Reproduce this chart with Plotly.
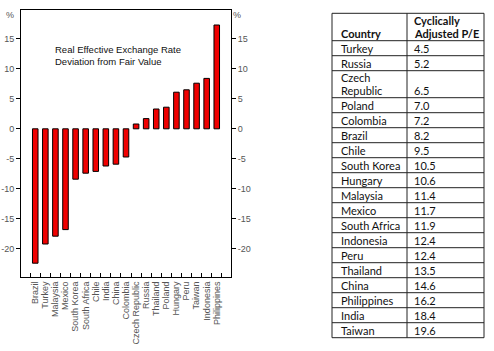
import plotly.graph_objects as go

countries = ["Brazil", "Turkey", "Malaysia", "Mexico", "South Korea", "South Africa",
             "Chile", "India", "China", "Colombia", "Czech Republic", "Russia",
             "Thailand", "Poland", "Hungary", "Peru", "Taiwan", "Indonesia", "Philippines"]
deviation = [-22.4, -19.2, -17.9, -16.8, -8.4, -7.4, -7.1, -6.2, -5.9, -4.7,
             0.8, 1.7, 3.3, 3.6, 6.1, 6.5, 7.6, 8.4, 17.3]
y_ticks = [15, 10, 5, 0, -5, -10, -15, -20]
y_ticktext = ["15", "10", "5", "0", "-5", "-10", "-15", "-20"]

table_countries = [["Turkey"], ["Russia"], ["Czech", "Republic"], ["Poland"], ["Colombia"],
                   ["Brazil"], ["Chile"], ["South Korea"], ["Hungary"], ["Malaysia"],
                   ["Mexico"], ["South Africa"], ["Indonesia"], ["Peru"], ["Thailand"],
                   ["China"], ["Philippines"], ["India"], ["Taiwan"]]
table_pe = ["4.5", "5.2", "6.5", "7.0", "7.2", "8.2", "9.5", "10.5", "10.6", "11.4",
            "11.7", "11.9", "12.4", "12.4", "13.5", "14.6", "16.2", "18.4", "19.6"]
header_col1 = ["Country"]
header_col2 = ["Cyclically", "Adjusted P/E"]

W, H = 494, 351
yr = [-24.7, 19.8]
tick_font = dict(family="Liberation Sans, Arial", size=9, color="#555")

fig = go.Figure()
fig.add_trace(go.Bar(x=countries, y=deviation, width=0.55,
                     marker=dict(color="#f00000", line=dict(color="#000", width=1)),
                     showlegend=False))
fig.add_trace(go.Scatter(x=countries, y=deviation, yaxis="y2", mode="markers",
                         marker=dict(opacity=0), showlegend=False, hoverinfo="skip"))

# ---- table drawn with shapes + annotations (pixel layout -> paper coords)
def px(x):
    return x / W

def py(y):
    return 1 - y / H

tx0, tx1, tx2 = 332, 407, 484
t_top, t_head = 13.3, 40.7
line_h = 13.4
row1 = 15.0
shapes = []
annots = []
lc = dict(color="#222", width=1)
table_font = dict(family="Lato", size=11, color="#111")

# header
hdr_lines = max(len(header_col1), len(header_col2))
def cell_text(lines, x, y_bottom, bold=False):
    n = len(lines)
    for i, s in enumerate(lines):
        yc = y_bottom - 7.3 - (n - 1 - i) * line_h
        annots.append(dict(text=f"<b>{s}</b>" if bold else s, x=px(x), y=py(yc),
                           xref="paper", yref="paper", showarrow=False,
                           xanchor="left", yanchor="middle", font=table_font))

cell_text(header_col1, tx0 + 7, t_head, bold=True)
cell_text(header_col2, tx1 + 5, t_head, bold=True)

ys = [t_top, t_head]
y = t_head
for c, v in zip(table_countries, table_pe):
    h = row1 + (len(c) - 1) * 12.0
    y_next = y + h
    cell_text(c, tx0 + 7, y_next)
    cell_text([v], tx1 + 5, y_next)
    ys.append(y_next)
    y = y_next

for yy in ys:
    shapes.append(dict(type="line", xref="paper", yref="paper", x0=px(tx0), x1=px(tx2),
                       y0=py(yy), y1=py(yy), line=lc))
for xx in (tx0, tx1, tx2):
    shapes.append(dict(type="line", xref="paper", yref="paper", x0=px(xx), x1=px(xx),
                       y0=py(t_top), y1=py(ys[-1]), line=lc))

annots += [
    dict(text="%", x=px(10), y=py(15), xref="paper", yref="paper",
         showarrow=False, font=tick_font, xanchor="center", yanchor="middle"),
    dict(text="%", x=px(237), y=py(15), xref="paper", yref="paper",
         showarrow=False, font=tick_font, xanchor="center", yanchor="middle"),
    dict(text="Real Effective Exchange Rate<br>Deviation from Fair Value",
         x=px(53), y=py(42), xref="paper", yref="paper", showarrow=False,
         align="left", xanchor="left", yanchor="top",
         font=dict(family="Liberation Sans, Arial", size=9.5, color="#111")),
]

fig.update_layout(
    width=W, height=H, margin=dict(l=0, r=0, t=0, b=0),
    paper_bgcolor="white", plot_bgcolor="white",
    xaxis=dict(domain=[px(21), px(231)], showline=True, linecolor="#000", linewidth=1,
               mirror=True, ticks="inside", tickson="boundaries", ticklen=4,
               tickcolor="#000", tickangle=-90, tickmode="array",
               tickvals=countries, ticktext=countries,
               tickfont=dict(family="Liberation Sans, Arial", size=9, color="#555"),
               showgrid=False, zeroline=False),
    yaxis=dict(domain=[py(277), py(10)], range=yr, tickmode="array", tickvals=y_ticks,
               ticktext=y_ticktext,
               showline=True, linecolor="#000", linewidth=1, ticks="outside", ticklen=4,
               tickcolor="#000", tickfont=tick_font, showgrid=False, zeroline=False),
    yaxis2=dict(overlaying="y", side="right", range=yr, tickmode="array",
                tickvals=y_ticks, ticktext=y_ticktext,
                showline=True, linecolor="#000", linewidth=1, ticks="outside", ticklen=4,
                tickcolor="#000", tickfont=tick_font, showgrid=False, zeroline=False),
    shapes=shapes,
    annotations=annots,
)

fig.write_html("out.html")
